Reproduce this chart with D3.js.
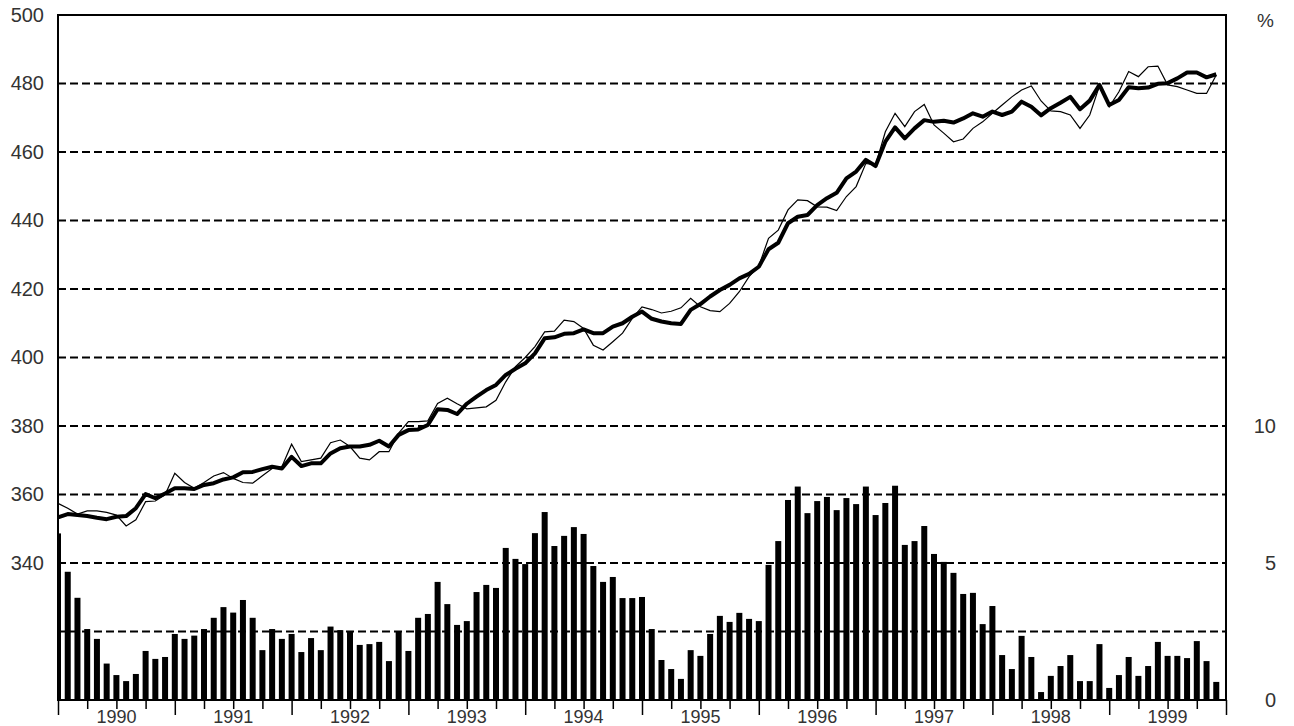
<!DOCTYPE html>
<html>
<script src="https://d3js.org/d3.v7.min.js"></script>

<head>
<title>Monthly level and growth, 1990-1999</title>
</head>

<style>
body {margin:0; background:white;}
text {font-family: "Liberation Sans", Arial, sans-serif; fill:#333;}
</style>

<body>
<svg width="1294" height="726"></svg>

<script>
// one value per month, Jan 1990 .. Dec 1999
var years = ["1990", "1991", "1992", "1993", "1994", "1995", "1996", "1997", "1998", "1999"];

// thin line: monthly level (left axis)
var level = [
  357.4, 356.0, 354.3, 355.2, 355.2, 354.8, 354.0, 350.8, 352.6, 357.9, 358.1, 359.9,
  366.2, 363.5, 361.8, 363.5, 365.4, 366.4, 364.7, 363.5, 363.3, 365.5, 367.6, 368.1,
  374.7, 369.6, 370.1, 370.6, 375.1, 375.9, 374.0, 370.6, 370.1, 372.5, 372.5, 377.9,
  381.3, 381.3, 381.5, 386.6, 388.1, 386.5, 385.0, 385.3, 385.6, 387.5, 392.9, 397.3,
  400.0, 403.2, 407.5, 407.7, 410.9, 410.5, 408.5, 403.6, 402.2, 404.6, 407.1, 411.4,
  414.8, 414.0, 413.0, 413.5, 414.5, 417.3, 414.8, 413.7, 413.4, 415.8, 419.2, 423.6,
  426.7, 434.8, 437.2, 443.1, 446.0, 445.8, 444.0, 443.9, 442.9, 447.0, 449.9, 456.7,
  456.2, 465.9, 471.3, 467.4, 471.8, 473.9, 467.9, 465.5, 463.0, 463.8, 466.9, 468.8,
  471.3, 473.7, 476.1, 478.1, 479.3, 474.9, 472.0, 471.8, 470.8, 466.9, 470.8, 479.3,
  473.2, 477.6, 483.5, 482.0, 484.9, 485.1, 479.6, 479.1, 478.1, 477.1, 477.1, 482.5
];

// thick line: trend (left axis)
var trend = [
  353.3, 354.3, 354.0, 353.7, 353.2, 352.8, 353.5, 353.7, 356.0, 360.1, 358.9, 360.3,
  361.8, 361.8, 361.6, 362.8, 363.3, 364.4, 365.0, 366.5, 366.6, 367.4, 368.1, 367.6,
  371.0, 368.3, 369.1, 369.1, 372.0, 373.5, 374.0, 374.0, 374.5, 375.7, 374.0, 377.4,
  378.8, 379.0, 380.3, 384.9, 384.7, 383.5, 386.5, 388.6, 390.5, 392.0, 394.9, 396.7,
  398.3, 401.2, 405.6, 405.9, 406.9, 407.1, 408.2, 407.1, 407.1, 409.0, 410.0, 411.9,
  413.4, 411.3, 410.5, 410.0, 409.8, 413.9, 415.6, 417.8, 419.7, 421.2, 423.1, 424.4,
  426.5, 431.6, 433.5, 439.2, 441.1, 441.6, 444.5, 446.5, 448.1, 452.3, 454.3, 457.7,
  455.9, 463.0, 467.2, 464.0, 466.9, 469.3, 468.8, 469.1, 468.6, 469.8, 471.3, 470.3,
  471.8, 470.8, 471.8, 474.7, 473.2, 470.7, 472.8, 474.4, 476.1, 472.5, 475.0, 479.6,
  473.7, 475.2, 478.9, 478.6, 478.8, 479.9, 480.1, 481.5, 483.2, 483.2, 481.8, 482.7
];

// bars: growth in % (right axis)
var growth = [
  6.08, 4.68, 3.73, 2.59, 2.23, 1.33, 0.91, 0.69, 0.95, 1.79, 1.50, 1.57,
  2.41, 2.23, 2.35, 2.59, 3.00, 3.39, 3.19, 3.65, 3.00, 1.82, 2.59, 2.23,
  2.41, 1.75, 2.26, 1.82, 2.68, 2.55, 2.52, 2.01, 2.04, 2.12, 1.42, 2.49,
  1.79, 3.00, 3.14, 4.31, 3.50, 2.74, 2.88, 3.94, 4.20, 4.09, 5.55, 5.15,
  4.96, 6.09, 6.86, 5.62, 5.99, 6.31, 6.06, 4.89, 4.31, 4.49, 3.72, 3.72,
  3.76, 2.59, 1.46, 1.13, 0.77, 1.82, 1.61, 2.41, 3.07, 2.85, 3.18, 2.96,
  2.88, 4.93, 5.80, 7.30, 7.79, 6.82, 7.26, 7.41, 6.93, 7.37, 7.15, 7.79,
  6.75, 7.19, 7.82, 5.66, 5.80, 6.35, 5.33, 5.04, 4.64, 3.87, 3.91, 2.77,
  3.43, 1.64, 1.13, 2.34, 1.57, 0.29, 0.88, 1.24, 1.64, 0.69, 0.69, 2.04,
  0.44, 0.91, 1.57, 0.88, 1.24, 2.12, 1.61, 1.61, 1.53, 2.15, 1.42, 0.66
];

var leftTicks = [340, 360, 380, 400, 420, 440, 460, 480, 500];
var gridValues = [320, 340, 360, 380, 400, 420, 440, 460, 480];
var rightTicks = [0, 5, 10];

var plotLeft = 58, plotRight = 1226, plotTop = 15, plotBottom = 700;

var svg = d3.select("svg");
var x = d3.scaleLinear().domain([0, 120]).range([plotLeft, plotRight]);
var y = d3.scaleLinear().domain([300, 500]).range([plotBottom, plotTop]);
var y2 = d3.scaleLinear().domain([0, 25]).range([plotBottom, plotTop]);

svg.append("clipPath").attr("id", "plotclip")
  .append("rect")
  .attr("x", plotLeft).attr("y", plotTop)
  .attr("width", plotRight - plotLeft).attr("height", plotBottom - plotTop);

// dashed grid
svg.append("g").selectAll("line")
  .data(gridValues)
  .enter()
  .append("line")
  .attr("x1", plotLeft).attr("x2", plotRight)
  .attr("y1", function(d) { return y(d); })
  .attr("y2", function(d) { return y(d); })
  .attr("stroke", "black")
  .attr("stroke-width", 2)
  .attr("stroke-dasharray", "8,4");

// bars
svg.append("g")
  .attr("clip-path", "url(#plotclip)")
  .selectAll("rect")
  .data(growth)
  .enter()
  .append("rect")
  .attr("x", function(d, i) { return x(i) - 3; })
  .attr("width", 6)
  .attr("y", function(d) { return y2(d); })
  .attr("height", function(d) { return plotBottom - y2(d); })
  .attr("fill", "black");

// lines
var line = d3.line()
  .x(function(d, i) { return x(i); })
  .y(function(d) { return y(d); });

svg.append("path")
  .datum(level)
  .attr("d", line)
  .attr("fill", "none")
  .attr("stroke", "black")
  .attr("stroke-width", 1.2);

svg.append("path")
  .datum(trend)
  .attr("d", line)
  .attr("fill", "none")
  .attr("stroke", "black")
  .attr("stroke-width", 4)
  .attr("stroke-linejoin", "round");

// frame
svg.append("rect")
  .attr("x", plotLeft).attr("y", plotTop)
  .attr("width", plotRight - plotLeft).attr("height", plotBottom - plotTop)
  .attr("fill", "none")
  .attr("stroke", "black")
  .attr("stroke-width", 2);

// x axis: quarter ticks, longer ticks at year boundaries
var xAxis = d3.axisBottom(x)
  .tickValues(d3.range(0, 121, 3))
  .tickSize(9)
  .tickFormat("");
var gx = svg.append("g")
  .attr("transform", "translate(0," + plotBottom + ")")
  .call(xAxis);
gx.select(".domain").remove();
gx.selectAll(".tick line")
  .attr("stroke", "black")
  .attr("stroke-width", 1.5)
  .attr("y2", function(d) { return d % 12 == 0 ? 15 : 9; });

svg.append("g").selectAll("text")
  .data(years)
  .enter()
  .append("text")
  .attr("x", function(d, i) { return x(i * 12 + 6); })
  .attr("y", 723)
  .attr("text-anchor", "middle")
  .style("font-size", "18px")
  .text(function(d) { return d; });

// left axis labels
var yAxis = d3.axisLeft(y).tickValues(leftTicks).tickSize(0).tickPadding(14);
var gy = svg.append("g")
  .attr("transform", "translate(" + plotLeft + ",0)")
  .call(yAxis);
gy.select(".domain").remove();
gy.selectAll("text")
  .style("font-size", "20px")
  .style("font-family", "'Liberation Sans', Arial, sans-serif")
  .attr("fill", "#333");

// right axis labels
svg.append("g").selectAll("text")
  .data(rightTicks)
  .enter()
  .append("text")
  .attr("x", 1276)
  .attr("y", function(d) { return y2(d); })
  .attr("dy", "0.35em")
  .attr("text-anchor", "end")
  .style("font-size", "20px")
  .text(function(d) { return d; });

svg.append("text")
  .attr("x", 1274)
  .attr("y", 27)
  .attr("text-anchor", "end")
  .style("font-size", "19px")
  .text("%");
</script>
</body>
</html>
